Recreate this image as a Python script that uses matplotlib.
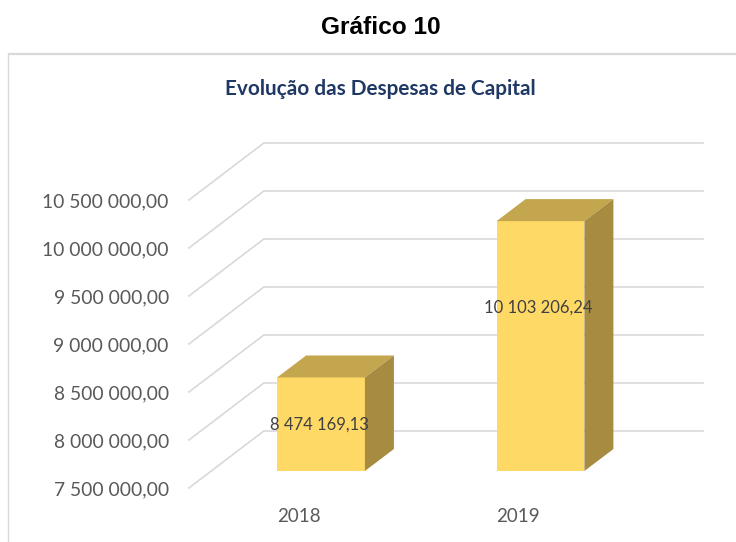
import matplotlib
matplotlib.use("Agg")
import matplotlib.pyplot as plt
from matplotlib.patches import Polygon

# ---------------- data ----------------
header = "Gráfico 10"
title = "Evolução das Despesas de Capital"
categories = ["2018", "2019"]
values = [8474169.13, 10103206.24]
value_labels = ["8 474 169,13", "10 103 206,24"]
tick_values = [7500000, 8000000, 8500000, 9000000, 9500000, 10000000, 10500000]
tick_labels = ["7 500 000,00", "8 000 000,00", "8 500 000,00", "9 000 000,00",
               "9 500 000,00", "10 000 000,00", "10 500 000,00"]
base = 7500000

# ---------------- style / geometry (pixels) ----------------
W, H = 736, 542
FRONT = "#FFD966"
TOP = "#C4A64F"
SIDE = "#A68B40"
GRID = "#D9D9D9"
px_per_cat = 219.5
px_per_val = 96 / 1e6
x0_px = 321          # pixel x of first category centre (bar front plane)
base_px = H - 471    # pixel y (bottom-up) of the base in the bar front plane
bar_w = 0.40
depth = (29, 22)     # bar depth offset in px
wall = (52.6, 40)    # back wall offset from bar plane
front = (-22.4, -17) # front (axis) plane offset from bar plane

fig = plt.figure(figsize=(W / 100, H / 100), dpi=100)
ax = fig.add_axes([0, 0, 1, 1])
ax.set_axis_off()
ax.set_xlim(-x0_px / px_per_cat, (W - x0_px) / px_per_cat)
ax.set_ylim(base - base_px / px_per_val, base + (H - base_px) / px_per_val)


def dx(p):
    return p / px_per_cat


def dy(p):
    return p / px_per_val


renderer = fig.canvas.get_renderer()


def fit(t, target):
    w = t.get_window_extent(renderer).width
    t.set_fontsize(t.get_fontsize() * target / w)


# frame of the chart
ax.plot([8 / W, 1], [1 - 54 / H, 1 - 54 / H], transform=ax.transAxes, color=GRID, lw=1.6, solid_capstyle="butt")
ax.plot([8 / W, 8 / W], [1 - 54 / H, 0], transform=ax.transAxes, color=GRID, lw=1.0)

# gridlines (back wall + floor-side diagonal)
xl, xr = -0.5, len(categories) - 0.5
for t in tick_values:
    ax.plot([xl + dx(wall[0]), xr + dx(wall[0])], [t + dy(wall[1])] * 2, color=GRID, lw=1.2, zorder=1)
    ax.plot([xl + dx(front[0]), xl + dx(wall[0])], [t + dy(front[1]), t + dy(wall[1])],
            color=GRID, lw=1.2, zorder=1)

# tick labels on the front plane
for t, lab in zip(tick_values, tick_labels):
    tx = ax.text(xl + dx(front[0]) - dx(20), t + dy(front[1]) - dy(2), lab, ha="right", va="center",
                 fontsize=14, family="Lato", color="#595959")
fit_ref = ax.texts[-1]
fit(fit_ref, 127)
for tx in ax.texts:
    tx.set_fontsize(fit_ref.get_fontsize())

# bars
xs = list(range(len(categories)))
ax.bar(xs, [v - base for v in values], bottom=base, width=bar_w, color=FRONT, zorder=3, linewidth=0)
for x, v in zip(xs, values):
    l, r = x - bar_w / 2, x + bar_w / 2
    ax.add_patch(Polygon([(l, v), (r, v), (r + dx(depth[0]), v + dy(depth[1])), (l + dx(depth[0]), v + dy(depth[1]))],
                         closed=True, facecolor=TOP, edgecolor="none", zorder=3))
    ax.add_patch(Polygon([(r, base), (r, v), (r + dx(depth[0]), v + dy(depth[1])), (r + dx(depth[0]), base + dy(depth[1]))],
                         closed=True, facecolor=SIDE, edgecolor="none", zorder=3))

# data labels
label_frac = [0.5, 0.655]
dl = []
for x, v, lab, f in zip(xs, values, value_labels, label_frac):
    dl.append(ax.text(x - dx(2), base + (v - base) * f, lab, ha="center", va="center",
                      fontsize=11, family="Lato", color="#404040", zorder=5))
fit(dl[0], 99)
dl[1].set_fontsize(dl[0].get_fontsize())

# category labels
cl = []
for x, c in zip(xs, categories):
    cl.append(ax.text(x + dx(front[0]), base + dy(front[1]) - dy(29), c, ha="center", va="center",
                      fontsize=13, family="Lato", color="#595959"))
fit(cl[0], 43)
cl[1].set_fontsize(cl[0].get_fontsize())

# titles
h = fig.text(381 / W, 1 - 28 / H, header, ha="center", va="center", fontsize=17,
             family="Liberation Sans", fontweight="bold", color="black")
fit(h, 120)
s = fig.text(380 / W, 1 - 89 / H, title, ha="center", va="center", fontsize=14,
             family="Lato", fontweight="bold", color="#1F3864")
fit(s, 312)

fig.savefig("out.png", dpi=100, facecolor="white")
